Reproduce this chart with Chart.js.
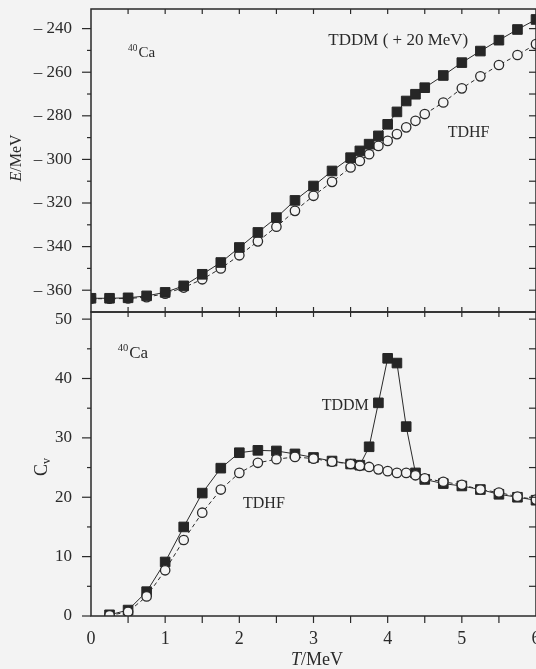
<!DOCTYPE html>
<html><head><meta charset="utf-8">
<script src="https://cdn.jsdelivr.net/npm/chart.js@4.4.0/dist/chart.umd.min.js"></script>
<style>
html,body{margin:0;padding:0;background:#f3f3f3;}
#wrap{position:relative;width:536px;height:669px;overflow:hidden;background:#f3f3f3;}
canvas{position:absolute;left:0;top:0;}
</style></head><body>
<div id="wrap"><canvas id="c1" width="536" height="669"></canvas><canvas id="c2" width="536" height="669"></canvas></div>
<script>
// ---------- data ----------
const T_TOP = [0,0.25,0.5,0.75,1,1.25,1.5,1.75,2,2.25,2.5,2.75,3,3.25,3.5,3.625,3.75,3.875,4,4.125,4.25,4.375,4.5,4.75,5,5.25,5.5,5.75,6];
const E_TDDM = [-363.7,-363.7,-363.5,-362.6,-361,-358,-352.7,-347.3,-340.4,-333.5,-326.7,-318.8,-312.2,-305.3,-299.2,-296.1,-293,-289.2,-283.9,-278.2,-273.2,-270.1,-267.1,-261.5,-255.6,-250.3,-245.3,-240.4,-235.8];
const E_TDHF = [-363.9,-363.9,-363.8,-363.2,-361.6,-358.8,-355,-350,-344,-337.6,-330.9,-323.6,-316.7,-310.3,-303.7,-300.7,-297.6,-293.8,-291.5,-288.4,-285.3,-282.3,-279.2,-273.9,-267.4,-261.9,-256.7,-252.1,-247.1];
const T_BOT = [0.25,0.5,0.75,1,1.25,1.5,1.75,2,2.25,2.5,2.75,3,3.25,3.5,3.625,3.75,3.875,4,4.125,4.25,4.375,4.5,4.75,5,5.25,5.5,5.75,6];
const CV_TDDM = [0.2,1.0,4.1,9.1,15.0,20.7,24.9,27.5,27.9,27.8,27.3,26.7,26.1,25.6,25.4,28.5,35.9,43.4,42.6,31.9,24.1,23.0,22.3,21.9,21.3,20.5,20.0,19.5];
const CV_TDHF = [0.1,0.7,3.3,7.7,12.8,17.4,21.3,24.1,25.8,26.4,26.8,26.5,26.0,25.6,25.3,25.1,24.7,24.4,24.1,24.1,23.7,23.2,22.6,22.1,21.3,20.8,20.1,19.6];
const X_TICKS = [0,1,2,3,4,5,6];
const X_MINOR = [0.5,1,1.5,2,2.5,3,3.5,4,4.5,5,5.5];
const E_TICKS = [-360,-340,-320,-300,-280,-260,-240];
const E_MINOR = [-350,-330,-310,-290,-270,-250];
const E_RIGHT = [-360,-350,-340,-330,-320,-310,-300,-290,-280,-270,-260,-250,-240];
const CV_TICKS = [0,10,20,30,40,50];
const CV_MINOR = [5,15,25,35,45];
const CV_RIGHT = [5,10,15,20,25,30,35,40,45,50];

// ---------- style ----------
const FONT = '"Liberation Serif","Times New Roman",serif';
const INK = '#2a2a2a';
function pts(xs, ys){ return xs.map((x,i)=>({x:x, y:ys[i]})); }

function seg(ctx,x1,y1,x2,y2){ ctx.beginPath(); ctx.moveTo(x1,y1); ctx.lineTo(x2,y2); ctx.stroke(); }

const decor = {
  id:'decor',
  afterDatasetsDraw(chart, args, o){
    const ctx = chart.ctx, a = chart.chartArea, x = chart.scales.x, y = chart.scales.y;
    ctx.save();
    ctx.strokeStyle = INK; ctx.fillStyle = INK;
    ctx.lineWidth = 1.5;
    ctx.strokeRect(a.left, a.top, a.right-a.left, a.bottom-a.top);
    ctx.lineWidth = 1.2;
    o.yMajor.forEach(v=>{ const p=y.getPixelForValue(v); seg(ctx,a.left-9,p,a.left,p); });
    o.yMinor.forEach(v=>{ const p=y.getPixelForValue(v); seg(ctx,a.left-4,p,a.left,p); });
    o.yRight.forEach(v=>{ const p=y.getPixelForValue(v); seg(ctx,a.right-7,p,a.right,p); });
    X_MINOR.forEach(v=>{
      const p=x.getPixelForValue(v);
      if (o.topIn) seg(ctx,p,a.top,p,a.top+5);
      if (o.botIn) seg(ctx,p,a.bottom,p,a.bottom-5);
      if (o.botOut) seg(ctx,p,a.bottom,p,a.bottom+7);
    });
    // annotations
    ctx.textBaseline='alphabetic'; ctx.textAlign='left';
    o.texts.forEach(t=>{
      const px = x.getPixelForValue(t.x), py = y.getPixelForValue(t.y);
      if (t.sup){
        ctx.font = (t.size*0.62)+'px '+FONT;
        ctx.fillText(t.sup, px, py - t.size*0.42);
        const w = ctx.measureText(t.sup).width;
        ctx.font = t.size+'px '+FONT;
        ctx.fillText(t.text, px + w + 1, py);
      } else {
        ctx.font = t.size+'px '+FONT;
        ctx.fillText(t.text, px, py);
      }
    });
    // axis titles
    (o.titles||[]).forEach(t=>{
      ctx.save();
      ctx.translate(t.cx, t.cy);
      if (t.rot) ctx.rotate(-Math.PI/2);
      let total = 0;
      const parts = t.parts.map(p=>{ ctx.font=(p.it?'italic ':'')+p.size+'px '+FONT; const w=ctx.measureText(p.s).width; total+=w; return Object.assign({w:w},p); });
      let cx = -total/2;
      ctx.textBaseline='middle';
      parts.forEach(p=>{ ctx.font=(p.it?'italic ':'')+p.size+'px '+FONT; ctx.fillText(p.s, cx, p.dy||0); cx+=p.w; });
      ctx.restore();
    });
    ctx.restore();
  }
};

const baseTicks = {color:INK, font:{family:FONT, size:17}};

// ---------- top panel ----------
new Chart(document.getElementById('c1'), {
  type:'line',
  data:{datasets:[
    {label:'TDDM', data:pts(T_TOP,E_TDDM), borderColor:INK, borderWidth:1, tension:0,
     pointStyle:'rect', pointRadius:6.8, pointBackgroundColor:'#262626', pointBorderColor:'#262626', pointBorderWidth:1},
    {label:'TDHF', data:pts(T_TOP,E_TDHF), borderColor:INK, borderWidth:1, borderDash:[4,3], tension:0,
     pointStyle:'circle', pointRadius:4.7, pointBackgroundColor:'#f4f4f4', pointBorderColor:INK, pointBorderWidth:1.3}
  ]},
  options:{
    responsive:false, animation:false, events:[],
    layout:{autoPadding:false, padding:{left:0,right:0,top:9,bottom:669-312}},
    plugins:{legend:{display:false}, tooltip:{enabled:false},
      decor:{yMajor:E_TICKS, yMinor:E_MINOR, yRight:E_RIGHT, topIn:true, botIn:true, botOut:false,
        texts:[
          {x:0.5, y:-253, sup:'40', text:'Ca', size:15},
          {x:3.2, y:-247.5, text:'TDDM ( + 20 MeV)', size:17},
          {x:4.81, y:-289.7, text:'TDHF', size:16}
        ],
        titles:[{cx:17, cy:158, rot:true, parts:[{s:'E',it:true,size:16},{s:'/MeV',size:16}]}]
      }},
    scales:{
      x:{type:'linear', min:0, max:6, display:false},
      y:{type:'linear', min:-370, max:-231, grid:{display:false}, border:{display:false},
         afterBuildTicks:s=>{ s.ticks = E_TICKS.map(v=>({value:v})); },
         afterFit:s=>{ s.width=91; s.paddingTop=0; s.paddingBottom=0; },
         ticks:Object.assign({padding:11, callback:v=>'– '+Math.abs(v)}, baseTicks)}
    }
  },
  plugins:[decor]
});

// ---------- bottom panel ----------
new Chart(document.getElementById('c2'), {
  type:'line',
  data:{datasets:[
    {label:'TDHF', data:pts(T_BOT,CV_TDHF), borderColor:INK, borderWidth:1, borderDash:[4,3], tension:0,
     pointStyle:'circle', pointRadius:4.7, pointBackgroundColor:'#f4f4f4', pointBorderColor:INK, pointBorderWidth:1.3},
    {label:'TDDM', data:pts(T_BOT,CV_TDDM), borderColor:INK, borderWidth:1, tension:0,
     pointStyle:'rect', pointRadius:6.8, pointBackgroundColor:'#262626', pointBorderColor:'#262626', pointBorderWidth:1}
  ]},
  options:{
    responsive:false, animation:false, events:[],
    layout:{autoPadding:false, padding:{left:0,right:0,top:312,bottom:0}},
    plugins:{legend:{display:false}, tooltip:{enabled:false},
      decor:{yMajor:CV_TICKS, yMinor:CV_MINOR, yRight:CV_RIGHT, topIn:true, botIn:false, botOut:true,
        texts:[
          {x:0.36, y:43.4, sup:'40', text:'Ca', size:17},
          {x:3.11, y:34.7, text:'TDDM', size:16},
          {x:2.05, y:18.2, text:'TDHF', size:16}
        ],
        titles:[
          {cx:42, cy:467, rot:true, parts:[{s:'C',size:18},{s:'v',size:12,dy:5}]},
          {cx:317, cy:660, rot:false, parts:[{s:'T',it:true,size:18},{s:'/MeV',size:18}]}
        ]
      }},
    scales:{
      x:{type:'linear', min:0, max:6, grid:{display:false}, border:{display:false},
         afterBuildTicks:s=>{ s.ticks = X_TICKS.map(v=>({value:v})); },
         afterFit:s=>{ s.height=669-616; s.paddingLeft=0; s.paddingRight=0; },
         ticks:Object.assign({padding:4}, baseTicks, {font:{family:FONT,size:18}})},
      y:{type:'linear', min:0, max:51.2, grid:{display:false}, border:{display:false},
         afterBuildTicks:s=>{ s.ticks = CV_TICKS.map(v=>({value:v})); },
         afterFit:s=>{ s.width=91; s.paddingTop=0; s.paddingBottom=0; },
         ticks:Object.assign({padding:11}, baseTicks)}
    }
  },
  plugins:[decor]
});
</script>
</body></html>
